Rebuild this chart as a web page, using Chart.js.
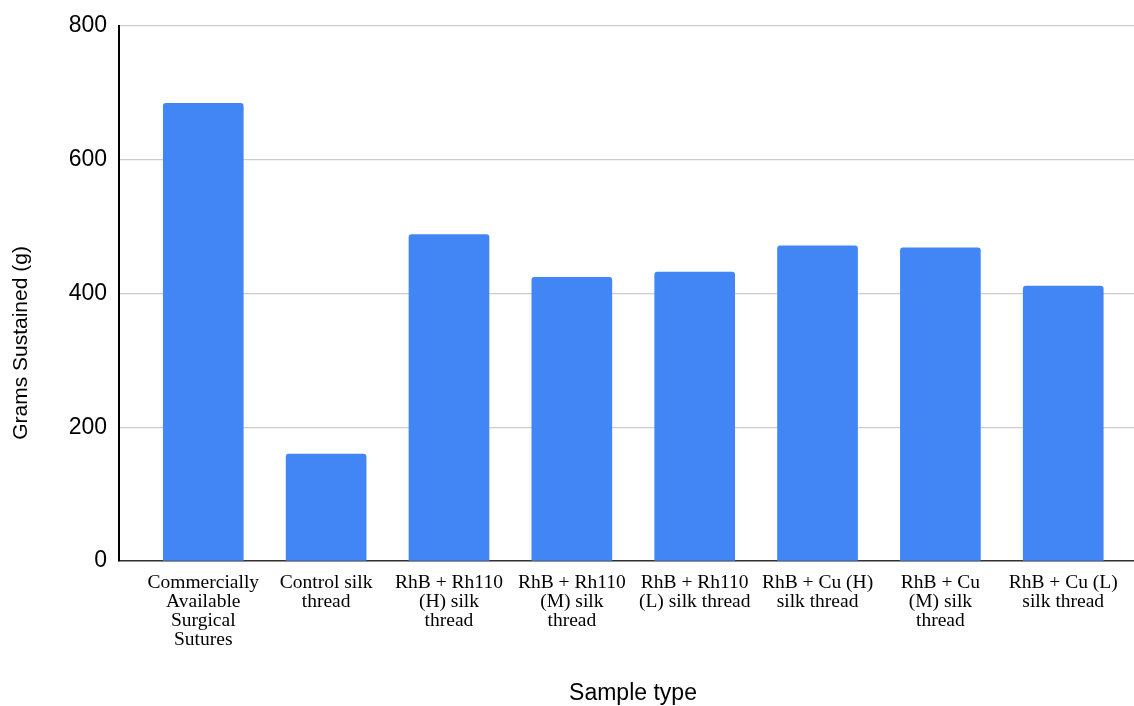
<!DOCTYPE html>
<html>
<head>
<meta charset="utf-8">
<script src="https://cdn.jsdelivr.net/npm/chart.js@4/dist/chart.umd.min.js"></script>
<style>
  html, body { margin: 0; padding: 0; background: #fff; }
  #wrap { width: 1134px; height: 706px; position: relative; }
</style>
</head>
<body>
<div id="wrap"><canvas id="chart"></canvas></div>
<script>
var sampleLabels = [
  ['Commercially', 'Available', 'Surgical', 'Sutures'],
  ['Control silk', 'thread'],
  ['RhB + Rh110', '(H) silk', 'thread'],
  ['RhB + Rh110', '(M) silk', 'thread'],
  ['RhB + Rh110', '(L) silk thread'],
  ['RhB + Cu (H)', 'silk thread'],
  ['RhB + Cu', '(M) silk', 'thread'],
  ['RhB + Cu (L)', 'silk thread']
];
var gramsSustained = [684, 160, 488, 424, 432, 471, 468, 411];
var yTicks = [0, 200, 400, 600, 800];
var yTitle = 'Grams Sustained (g)';
var xTitle = 'Sample type';

var barColor = '#4285F4';

// one point per sample, x = index so bars sit where the labels are
var points = [];
for (var i = 0; i < gramsSustained.length; i++) {
  points.push({ x: i, y: gramsSustained[i] });
}

// axis titles drawn by hand, the original puts them off the plot centre
var titlesPlugin = {
  id: 'axisTitles',
  afterDraw: function(chart) {
    var ctx = chart.ctx;
    ctx.save();
    ctx.fillStyle = '#000';
    ctx.textAlign = 'center';
    ctx.textBaseline = 'middle';
    ctx.font = '23px "Liberation Sans", Arial, sans-serif';
    ctx.fillText(xTitle, 633, 694);
    ctx.translate(21, 343);
    ctx.rotate(-Math.PI / 2);
    ctx.font = '21px "Liberation Sans", Arial, sans-serif';
    ctx.fillText(yTitle, 0, 0);
    ctx.restore();
  }
};

var ctx = document.getElementById('chart').getContext('2d');
var myChart = new Chart(ctx, {
  type: 'bar',
  data: {
    datasets: [{
      data: points,
      backgroundColor: barColor,
      borderWidth: 0,
      barThickness: 80,
      borderRadius: { topLeft: 3, topRight: 3 },
      borderSkipped: 'bottom'
    }]
  },
  options: {
    responsive: true,
    maintainAspectRatio: false,
    animation: false,
    layout: { padding: { top: 25, right: 0, left: 0, bottom: 0 } },
    plugins: {
      legend: { display: false },
      tooltip: { enabled: false }
    },
    scales: {
      x: {
        type: 'linear',
        offset: false,
        min: -0.686,
        max: 7.576,
        grid: { display: false, drawTicks: false },
        border: { display: true, color: '#333', width: 1.5 },
        ticks: {
          stepSize: 1,
          includeBounds: false,
          autoSkip: false,
          maxRotation: 0,
          padding: 12,
          color: '#000',
          font: { family: '"Liberation Serif", "Times New Roman", serif', size: 19.5, lineHeight: 0.98 },
          callback: function(value) {
            return Number.isInteger(value) && sampleLabels[value] ? sampleLabels[value] : '';
          }
        },
        title: { display: false },
        afterFit: function(scale) { scale.height = 145; }
      },
      y: {
        min: yTicks[0],
        max: yTicks[yTicks.length - 1],
        grid: { color: '#cccccc', lineWidth: 1.2, drawTicks: false },
        border: { display: true, color: '#000', width: 2 },
        ticks: {
          stepSize: 200,
          padding: 12,
          color: '#000',
          font: { family: '"Liberation Sans", Arial, sans-serif', size: 23 }
        },
        title: { display: false },
        afterFit: function(scale) { scale.width = 119; }
      }
    }
  },
  plugins: [titlesPlugin]
});
</script>
</body>
</html>
